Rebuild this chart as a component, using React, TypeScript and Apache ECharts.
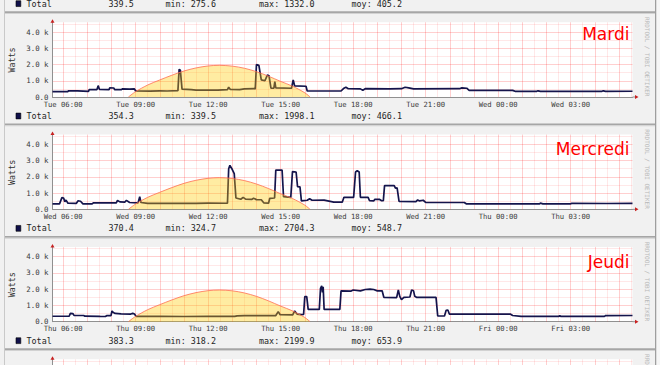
import React, { useEffect, useRef } from 'react';
import * as echarts from 'echarts';

// ---------- data ----------
const dayTitles = ['Mardi', 'Mercredi', 'Jeudi'];
const tickHours = [6, 9, 12, 15, 18, 21, 24, 27];
const tickDays = [['Tue', 'Wed'], ['Wed', 'Thu'], ['Thu', 'Fri'], ['Fri', 'Sat']];
const legendLast = ['339.5', '354.3', '370.4', '383.3'];
const legendMin = ['275.6', '339.5', '324.7', '318.2'];
const legendMax = ['1332.0', '1998.1', '2704.3', '2199.9'];
const legendAvg = ['405.2', '466.1', '548.7', '653.9'];

const tuesday: [number, number][] = [
  [5.56, 335], [6.2, 335], [6.22, 380], [6.6, 375], [6.62, 345], [7.05, 345], [7.08, 460], [7.4, 455],
  [7.45, 700], [7.5, 470], [7.9, 450], [7.93, 560], [8.1, 555], [8.13, 450], [8.4, 450], [8.45, 500],
  [8.75, 490], [8.95, 500], [9.0, 370], [9.6, 365], [10.0, 375], [10.3, 370], [10.75, 390], [10.8, 1700],
  [10.85, 1650], [10.92, 480], [11.3, 450], [11.5, 420], [12.0, 430], [12.4, 420], [12.8, 450], [12.85, 600],
  [12.92, 460], [13.3, 450], [13.5, 500], [13.9, 520], [13.95, 500], [14.0, 1998], [14.1, 1950], [14.2, 1050],
  [14.35, 1000], [14.45, 1350], [14.52, 1300], [14.6, 540], [14.72, 540], [14.76, 950], [14.8, 560], [15.45, 540],
  [15.52, 1050], [15.58, 680], [16.05, 660], [16.1, 370], [17.5, 370], [17.6, 520], [17.7, 600], [17.8, 510],
  [18.3, 500], [18.4, 420], [18.5, 510], [19.5, 500], [20.0, 510], [20.15, 600], [20.3, 560], [20.5, 500],
  [22.4, 510], [22.5, 560], [22.7, 540], [22.8, 410], [24.6, 410], [24.7, 350], [25.6, 350], [25.65, 380],
  [25.75, 350], [28.3, 350], [28.35, 380], [28.45, 350], [29.56, 354]
];

const wednesday: [number, number][] = [
  [5.56, 335], [5.85, 335], [5.95, 720], [6.02, 700], [6.07, 470], [6.12, 570], [6.2, 380], [6.55, 370],
  [6.62, 530], [6.72, 500], [6.82, 335], [7.2, 335], [7.25, 400], [8.2, 400], [8.25, 550], [8.35, 460],
  [8.55, 450], [8.62, 550], [8.75, 420], [9.1, 400], [9.17, 780], [9.22, 420], [9.5, 370], [10.5, 375],
  [11.5, 370], [12.0, 380], [12.8, 375], [12.85, 2500], [12.9, 2704], [13.0, 2450], [13.08, 2200], [13.15, 700],
  [13.35, 620], [13.45, 740], [13.55, 630], [13.8, 610], [13.88, 680], [14.0, 600], [14.2, 590], [14.3, 400],
  [14.5, 380], [14.55, 680], [14.75, 700], [14.8, 2420], [15.06, 2420], [15.12, 780], [15.42, 740], [15.49, 2320],
  [15.64, 2300], [15.7, 1400], [15.8, 1380], [15.86, 520], [16.1, 560], [16.2, 650], [16.3, 560], [16.8, 570],
  [17.2, 440], [17.55, 440], [17.62, 740], [18.02, 740], [18.1, 2300], [18.17, 2380], [18.25, 2300], [18.3, 740],
  [18.62, 740], [18.68, 530], [18.85, 520], [18.9, 620], [19.1, 610], [19.18, 530], [19.25, 540], [19.3, 1460],
  [19.7, 1460], [19.75, 1300], [19.82, 1320], [19.9, 490], [20.6, 480], [20.67, 580], [20.75, 520], [20.9, 560],
  [21.0, 430], [22.6, 420], [22.68, 340], [25.7, 335], [25.75, 380], [25.85, 340], [27.0, 340], [27.05, 370],
  [28.5, 360], [29.56, 370]
];

const thursday: [number, number][] = [
  [5.56, 335], [6.25, 335], [6.3, 510], [6.4, 500], [6.45, 390], [6.85, 380], [6.9, 340], [7.5, 330],
  [7.55, 320], [7.75, 320], [7.8, 370], [7.98, 370], [8.02, 660], [8.08, 560], [8.15, 510], [8.4, 480],
  [8.8, 470], [8.88, 510], [8.95, 470], [9.02, 330], [10.0, 325], [11.0, 320], [12.0, 325], [13.1, 330],
  [13.2, 360], [13.5, 370], [14.0, 380], [14.8, 380], [14.9, 620], [14.98, 430], [15.5, 420], [15.58, 660],
  [15.68, 470], [15.85, 430], [15.95, 450], [16.0, 1540], [16.08, 1540], [16.14, 760], [16.6, 760], [16.65, 2050],
  [16.7, 2200], [16.73, 1800], [16.76, 2150], [16.8, 760], [17.45, 760], [17.5, 1900], [17.9, 1880], [18.0, 1950],
  [18.3, 1900], [18.5, 1980], [18.7, 2000], [18.85, 1980], [19.0, 1900], [19.2, 1900], [19.27, 1500], [19.8, 1480],
  [19.87, 1950], [19.93, 1560], [20.0, 1360], [20.1, 1500], [20.35, 1520], [20.42, 1950], [20.5, 1900], [20.55, 1560],
  [20.62, 1500], [21.43, 1500], [21.5, 350], [21.78, 350], [21.85, 700], [21.92, 720], [21.98, 470], [24.5, 470],
  [24.6, 380], [24.95, 330], [26.5, 330], [26.55, 360], [26.6, 330], [28.4, 330], [28.45, 380], [29.56, 383]
];

const sunHours = [8.7, 9.0, 9.5, 10.0, 10.5, 11.0, 11.5, 12.0, 12.46, 13.0, 13.5, 14.0, 14.5, 15.0, 15.5, 16.0, 16.22];
const sunWatts = [0, 330, 740, 1050, 1340, 1600, 1790, 1910, 1950, 1900, 1770, 1560, 1280, 960, 660, 260, 0];

// ---------- layout ----------
const X0 = 52.5;
const PW = 580;
const PH = 74.75;
const PERIOD = 112.35;
const Z1 = 97;
const T0 = 5.56;
const T1 = 29.56;
const MONO = '"DejaVu Sans Mono", monospace';
const titleY = [34, 149, 262];
const MAJOR = 'rgba(255,0,0,0.19)';
const MINOR = 'rgba(255,0,0,0.09)';

function zeroY(k: number) {
  return Z1 + (k - 1) * PERIOD;
}

function buildOption() {
  const panelData = [tuesday, wednesday, thursday];
  const grids: any[] = [];
  const xAxes: any[] = [];
  const yAxes: any[] = [];
  const series: any[] = [];
  const graphics: any[] = [];

  const gridLineHours: number[] = [];
  for (let h = 6; h <= 29.5; h += 0.5) gridLineHours.push(h);

  for (let i = 0; i < 4; i++) {
    const z = zeroY(i + 1);
    const visibleLabels = i < 3;
    grids.push({
      left: X0, width: PW, top: z - PH, height: PH,
      show: true, backgroundColor: '#ffffff', borderWidth: 0,
      containLabel: false, outerBoundsMode: 'none'
    });
    xAxes.push({
      type: 'value', gridIndex: i, min: T0, max: T1,
      axisLine: { show: true, onZero: false, lineStyle: { color: '#909090', width: 1 } },
      axisTick: { show: false, customValues: tickHours },
      splitLine: { show: false },
      axisLabel: {
        show: visibleLabels,
        customValues: tickHours,
        formatter: (v: number) => {
          const d = v < 24 ? tickDays[i][0] : tickDays[i][1];
          const h = Math.round(v) % 24;
          return d + ' ' + String(h).padStart(2, '0') + ':00';
        },
        fontFamily: MONO, fontSize: 7.2, color: '#3a3a3a', margin: 3.5, hideOverlap: false
      }
    });
    yAxes.push({
      type: 'value', gridIndex: i, min: 0, max: 4600, interval: 500,
      axisLine: { show: true, lineStyle: { color: '#909090', width: 1 } },
      axisTick: { show: false },
      splitLine: {
        show: true, showMaxLine: false,
        lineStyle: { color: [MAJOR, MINOR], width: 1 }
      },
      axisLabel: {
        show: visibleLabels,
        formatter: (v: number) => (v === 0 ? '0.0' : v % 1000 === 0 ? (v / 1000).toFixed(1) + ' k' : ''),
        fontFamily: MONO, fontSize: 7.4, color: '#3a3a3a', margin: 4
      }
    });
    series.push({
      type: 'line', xAxisIndex: i, yAxisIndex: i, data: [], silent: true, z: 1,
      markLine: {
        z: 1, silent: true, symbol: ['none', 'none'], label: { show: false }, animation: false,
        emphasis: { disabled: true },
        data: gridLineHours.map((h) => ({
          xAxis: h,
          lineStyle: { color: h % 1 === 0 ? MAJOR : MINOR, width: 1, type: 'solid' }
        }))
      }
    });
    if (i < 3) {
      series.push({
        type: 'line', xAxisIndex: i, yAxisIndex: i, data: panelData[i], showSymbol: false, z: 2,
        lineStyle: { color: '#14144c', width: 1.7 }, silent: true
      });
      series.push({
        type: 'line', xAxisIndex: i, yAxisIndex: i,
        data: sunHours.map((h, j) => [h, sunWatts[j]]),
        smooth: 0.3, showSymbol: false, z: 3, silent: true,
        lineStyle: { color: 'rgba(255,110,80,0.8)', width: 1 },
        areaStyle: { color: 'rgba(255,204,0,0.52)' }
      });
    }
  }

  // panel borders
  const right = 655;
  for (let b = 0; b < 4; b++) {
    const y = 12.5 + b * PERIOD;
    graphics.push({ type: 'rect', shape: { x: 4, y: y - 1.3, width: right - 4, height: 1.8 }, style: { fill: '#a6a6a6' }, z: 5 });
    graphics.push({ type: 'rect', shape: { x: 4, y: y + 0.5, width: right - 4, height: 1 }, style: { fill: '#d2d2d2' }, z: 5 });
  }
  graphics.push({ type: 'rect', shape: { x: 4, y: 0, width: 1, height: 365 }, style: { fill: '#c9c9c9' }, z: 5 });
  graphics.push({ type: 'rect', shape: { x: right, y: 0, width: 1.5, height: 365 }, style: { fill: '#9e9e9e' }, z: 5 });
  graphics.push({ type: 'rect', shape: { x: right + 1.5, y: 0, width: 10, height: 365 }, style: { fill: '#f6f6f6' }, z: 5 });

  // legend rows
  for (let k = 0; k < 4; k++) {
    const ly = zeroY(k) + 19;
    graphics.push({ type: 'rect', shape: { x: 16, y: ly - 2.9, width: 4.8, height: 5.8 }, style: { fill: '#10104a', stroke: '#000', lineWidth: 0.6 }, z: 10 });
    const items: [string, number][] = [
      ['Total', 26.5],
      [legendLast[k], 108.5],
      ['min: ' + legendMin[k], 165.5],
      ['max: ' + legendMax[k], 259],
      ['moy: ' + legendAvg[k], 351.5]
    ];
    items.forEach(([t, x]) => {
      graphics.push({
        type: 'text', x, y: ly, z: 10, silent: true,
        style: { text: t, fontFamily: MONO, fontSize: 8.4, fill: '#1e1e1e', align: 'left', verticalAlign: 'middle' }
      });
    });
  }

  // per-panel decorations
  for (let k = 1; k <= 4; k++) {
    const z = zeroY(k);
    const top = z - PH;
    graphics.push({ type: 'line', shape: { x1: X0 + PW, y1: z, x2: X0 + PW + 3, y2: z }, style: { stroke: '#909090', lineWidth: 1 }, z: 10 });
    graphics.push({ type: 'polygon', shape: { points: [[X0 + PW + 2.5, z - 2], [X0 + PW + 6, z], [X0 + PW + 2.5, z + 2]] }, style: { fill: '#c82020' }, z: 10 });
    graphics.push({ type: 'polygon', shape: { points: [[X0 - 2, top + 0.5], [X0, top - 3], [X0 + 2, top + 0.5]] }, style: { fill: '#c82020' }, z: 10 });
    graphics.push({
      type: 'text', x: 647.5, y: z - 40.3, rotation: -Math.PI / 2, z: 10, silent: true,
      style: { text: 'RRDTOOL / TOBI OETIKER', fontFamily: MONO, fontSize: 6, fill: '#b8b8b8', align: 'center', verticalAlign: 'middle' }
    });
    if (k <= 3) {
      graphics.push({
        type: 'text', x: 12, y: z - 37, rotation: Math.PI / 2, z: 10, silent: true,
        style: { text: 'Watts', fontFamily: MONO, fontSize: 8.4, fill: '#333', align: 'center', verticalAlign: 'middle' }
      });
      graphics.push({
        type: 'text', x: 629.5, y: titleY[k - 1], z: 10, silent: true,
        style: { text: dayTitles[k - 1], fontFamily: '"DejaVu Sans", sans-serif', fontSize: 17, fill: '#ff0000', align: 'right', verticalAlign: 'middle' }
      });
    }
  }

  return {
    animation: false,
    backgroundColor: '#f1f1f1',
    grid: grids,
    xAxis: xAxes,
    yAxis: yAxes,
    series,
    graphic: { elements: graphics }
  };
}

export default function App() {
  const ref = useRef<HTMLDivElement>(null);
  useEffect(() => {
    if (!ref.current) return;
    const chart = echarts.init(ref.current, null, { renderer: 'svg' });
    chart.setOption(buildOption() as any);
    return () => chart.dispose();
  }, []);
  return <div ref={ref} style={{ position: 'fixed', left: 0, top: 0, width: 660, height: 365 }} />;
}
